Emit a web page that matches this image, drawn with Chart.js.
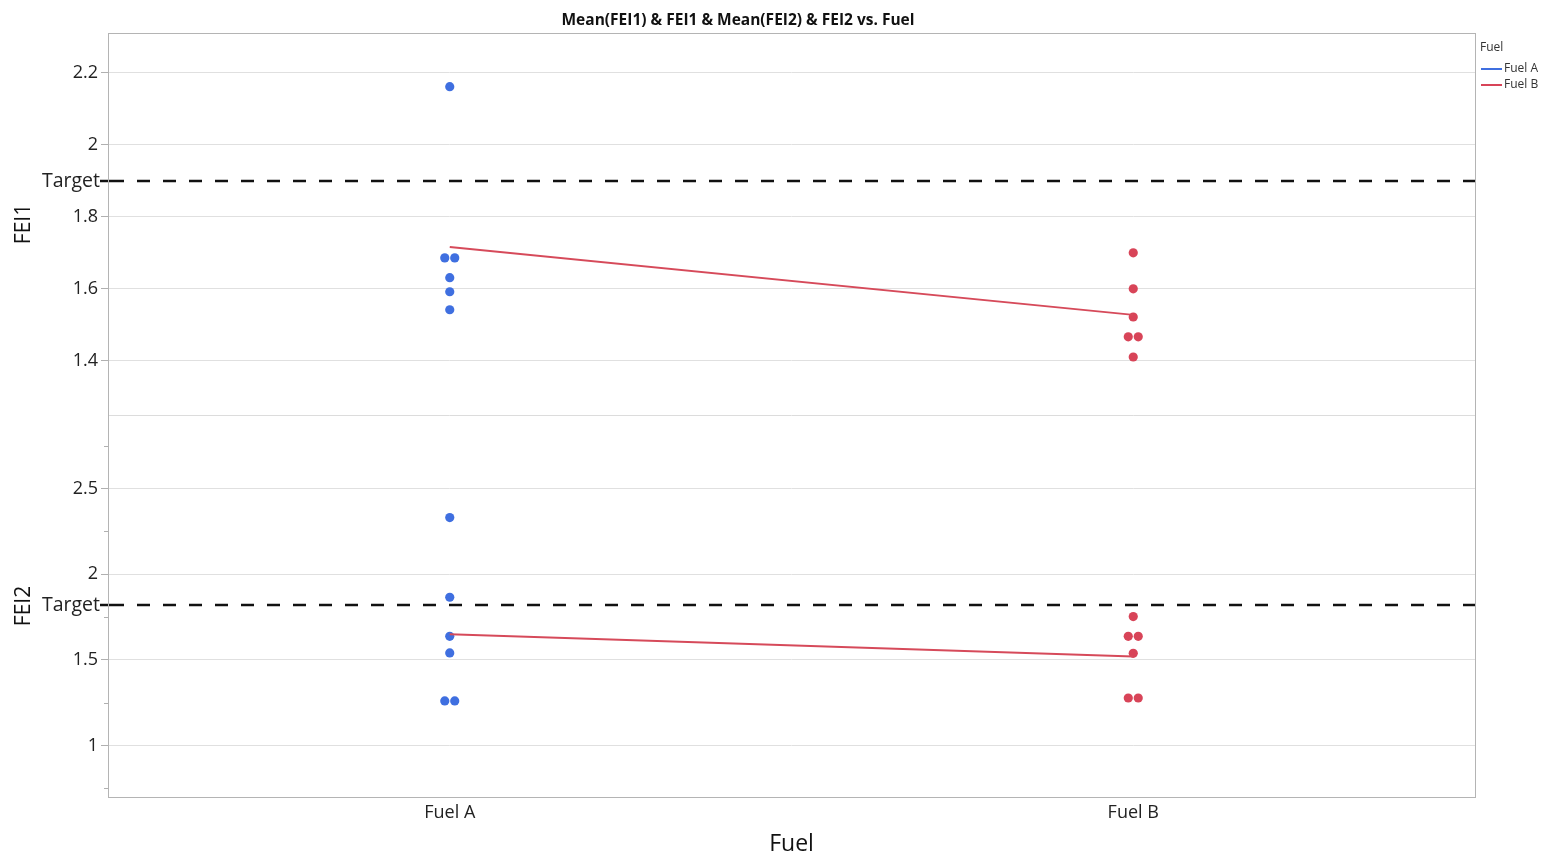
<!DOCTYPE html>
<html>
<head>
<meta charset="utf-8">
<script src="https://cdn.jsdelivr.net/npm/chart.js@4/dist/chart.umd.min.js"></script>
<style>
  html, body { margin: 0; padding: 0; background: #fff; }
  #wrap { width: 1543px; height: 854px; }
</style>
</head>
<body>
<div id="wrap"><canvas id="chart" width="1543" height="854"></canvas></div>
<script>
const TITLE = "Mean(FEI1) & FEI1 & Mean(FEI2) & FEI2 vs. Fuel";
const FUELS = ["Fuel A", "Fuel B"];
const FUEL_COLORS = ["#3f6fe0", "#d84458"];
const MEAN_COLOR = "#d64a5a";

const FEI1_A = [2.161, 1.686, 1.686, 1.631, 1.592, 1.542];
const FEI1_B = [1.700, 1.600, 1.522, 1.467, 1.467, 1.411];
const FEI2_A = [2.331, 1.866, 1.638, 1.541, 1.261, 1.261];
const FEI2_B = [1.753, 1.638, 1.638, 1.539, 1.278, 1.278];

const TARGET_FEI1 = 1.9;
const TARGET_FEI2 = 1.82;

const FEI1_TICKS = [1.4, 1.6, 1.8, 2.0, 2.2];
const FEI2_TICKS = [1, 1.5, 2, 2.5];
const FEI2_MINOR = [0.75, 1.25, 1.75, 2.25, 2.75];

const FONT = "'Open Sans', 'Noto Sans', sans-serif";
const JITTER = 0.0146;

const mean = (arr) => arr.reduce((a, b) => a + b, 0) / arr.length;

// side-by-side offsets for tied values, like JMP's point jitter
function jittered(values, cat) {
  const counts = {};
  values.forEach((v) => { counts[v] = (counts[v] || 0) + 1; });
  const seen = {};
  return values.map((v) => {
    const i = seen[v] || 0;
    seen[v] = i + 1;
    return { x: cat + (i - (counts[v] - 1) / 2) * JITTER, y: v };
  });
}

function pointSet(values, cat, axis) {
  return {
    type: "scatter", yAxisID: axis,
    data: jittered(values, cat),
    backgroundColor: FUEL_COLORS[cat], borderColor: FUEL_COLORS[cat],
    pointRadius: 4.6, borderWidth: 0,
  };
}

function meanSet(a, b, axis) {
  return {
    type: "line", yAxisID: axis,
    data: [{ x: 0, y: mean(a) }, { x: 1, y: mean(b) }],
    borderColor: MEAN_COLOR, borderWidth: 2, pointRadius: 0, fill: false,
  };
}

const datasets = [
  meanSet(FEI1_A, FEI1_B, "y1"),
  meanSet(FEI2_A, FEI2_B, "y2"),
  pointSet(FEI1_A, 0, "y1"),
  pointSet(FEI1_B, 1, "y1"),
  pointSet(FEI2_A, 0, "y2"),
  pointSet(FEI2_B, 1, "y2"),
];

const frame = {
  id: "frame",
  afterDraw(chart) {
    const { ctx, chartArea: a, scales } = chart;
    ctx.save();
    // panel separator
    ctx.strokeStyle = "#dcdcdc";
    ctx.lineWidth = 1;
    const sy = Math.round(scales.y1.bottom) + 0.5;
    ctx.beginPath(); ctx.moveTo(a.left, sy); ctx.lineTo(a.right, sy); ctx.stroke();

    // target lines
    [["y1", TARGET_FEI1], ["y2", TARGET_FEI2]].forEach(([id, t]) => {
      const y = Math.round(scales[id].getPixelForValue(t));
      ctx.strokeStyle = "#111";
      ctx.lineWidth = 2.5;
      ctx.setLineDash([]);
      ctx.beginPath(); ctx.moveTo(a.left - 8, y); ctx.lineTo(a.left + 4, y); ctx.stroke();
      ctx.setLineDash([13, 13]);
      ctx.lineDashOffset = 1;
      ctx.beginPath(); ctx.moveTo(a.left + 4, y); ctx.lineTo(a.right, y); ctx.stroke();
      ctx.setLineDash([]);
      ctx.fillStyle = "#222";
      ctx.font = `19.5px ${FONT}`;
      ctx.textAlign = "right";
      ctx.textBaseline = "middle";
      ctx.fillText("Target", a.left - 8, y);
    });

    // minor ticks on FEI2
    ctx.strokeStyle = "#b0b0b0";
    ctx.lineWidth = 1;
    FEI2_MINOR.forEach((v) => {
      const y = Math.round(scales.y2.getPixelForValue(v)) + 0.5;
      ctx.beginPath(); ctx.moveTo(a.left - 4, y); ctx.lineTo(a.left, y); ctx.stroke();
    });

    // plot frame
    ctx.strokeStyle = "#b4b4b4";
    ctx.strokeRect(Math.round(a.left) + 0.5, Math.round(a.top) + 0.5,
      Math.round(a.right - a.left), Math.round(a.bottom - a.top));

    // title
    ctx.fillStyle = "#111";
    ctx.font = `bold 15.5px ${FONT}`;
    ctx.textAlign = "center";
    ctx.textBaseline = "middle";
    ctx.fillText(TITLE, 738, 21);

    // legend
    const lx = a.right + 6;
    ctx.textAlign = "left";
    ctx.font = `12px ${FONT}`;
    ctx.fillStyle = "#333";
    ctx.fillText("Fuel", lx - 1, 48);
    FUELS.forEach((f, i) => {
      const y = 69 + i * 16;
      ctx.strokeStyle = FUEL_COLORS[i];
      ctx.lineWidth = 2;
      ctx.beginPath(); ctx.moveTo(lx, y); ctx.lineTo(lx + 21, y); ctx.stroke();
      ctx.fillText(f, lx + 23, y);
    });
    ctx.restore();
  },
};

function yScale(min, max, ticks, title) {
  return {
    type: "linear", position: "left", stack: "fei", stackWeight: 1,
    min, max,
    afterBuildTicks: (s) => { s.ticks = ticks.map((v) => ({ value: v })); },
    afterFit: (s) => { s.width = 108; },
    grid: { color: "#e0e0e0", tickColor: "#b0b0b0", tickLength: 7 },
    border: { display: false },
    ticks: { color: "#222", padding: 3, font: { family: FONT, size: 18 }, callback: (v) => String(v) },
    title: { display: true, text: title, color: "#111", padding: { top: 14, bottom: 0 },
      font: { family: FONT, size: 21, lineHeight: 1 } },
  };
}

new Chart(document.getElementById("chart"), {
  data: { datasets },
  plugins: [frame],
  options: {
    responsive: false, animation: false,
    layout: { padding: { top: 33, right: 68, left: 0, bottom: 0 } },
    plugins: { legend: { display: false }, tooltip: { enabled: false } },
    scales: {
      x: {
        type: "linear", min: -0.5, max: 1.5,
        afterBuildTicks: (s) => { s.ticks = FUELS.map((_, i) => ({ value: i })); },
        afterFit: (s) => { s.height = 57; },
        grid: { display: false, drawTicks: false, tickLength: 0 },
        border: { display: false },
        ticks: { color: "#222", padding: 5, font: { family: FONT, size: 18 }, callback: (v) => FUELS[v] },
        title: { display: true, text: "Fuel", color: "#111", padding: 0,
          font: { family: FONT, size: 23, lineHeight: 0.8 } },
      },
      y2: yScale(0.7, 2.93, FEI2_TICKS, "FEI2"),
      y1: yScale(1.25, 2.31, FEI1_TICKS, "FEI1"),
    },
  },
});
</script>
</body>
</html>
